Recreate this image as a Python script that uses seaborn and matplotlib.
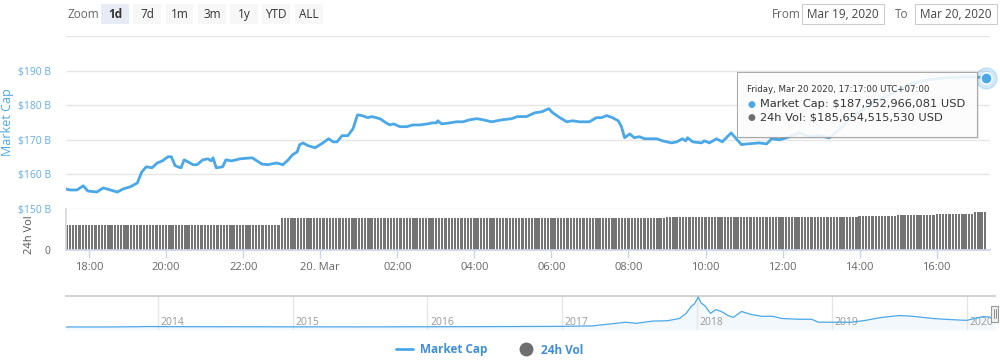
import numpy as np
import pandas as pd
import matplotlib
matplotlib.use("Agg")
import matplotlib.pyplot as plt
import matplotlib.dates as mdates
from matplotlib.patches import Rectangle
from matplotlib.lines import Line2D
import seaborn as sns

# --- data --------------------------------------------------------------
cap_times = [
    "03-19 17:24", "03-19 17:30", "03-19 17:41", "03-19 17:51", "03-19 17:58",
    "03-19 18:12", "03-19 18:22", "03-19 18:44", "03-19 18:53", "03-19 19:04",
    "03-19 19:15", "03-19 19:22", "03-19 19:29", "03-19 19:38", "03-19 19:46",
    "03-19 19:54", "03-19 20:03", "03-19 20:08", "03-19 20:14", "03-19 20:23",
    "03-19 20:28", "03-19 20:34", "03-19 20:42", "03-19 20:48", "03-19 20:57",
    "03-19 21:05", "03-19 21:10", "03-19 21:13", "03-19 21:18", "03-19 21:28",
    "03-19 21:33", "03-19 21:42", "03-19 21:55", "03-19 22:14", "03-19 22:29",
    "03-19 22:38", "03-19 22:52", "03-19 23:02", "03-19 23:10", "03-19 23:17",
    "03-19 23:24", "03-19 23:28", "03-19 23:33", "03-19 23:41", "03-19 23:52",
    "03-20 00:04", "03-20 00:13", "03-20 00:20", "03-20 00:26", "03-20 00:34",
    "03-20 00:43", "03-20 00:51", "03-20 00:58", "03-20 01:05", "03-20 01:14",
    "03-20 01:20", "03-20 01:33", "03-20 01:40", "03-20 01:48", "03-20 01:54",
    "03-20 02:04", "03-20 02:15", "03-20 02:24", "03-20 02:35", "03-20 02:47",
    "03-20 02:55", "03-20 03:01", "03-20 03:03", "03-20 03:09", "03-20 03:22",
    "03-20 03:32", "03-20 03:42", "03-20 03:53", "03-20 04:04", "03-20 04:13",
    "03-20 04:27", "03-20 04:35", "03-20 04:44", "03-20 04:58", "03-20 05:07",
    "03-20 05:21", "03-20 05:34", "03-20 05:45", "03-20 05:56", "03-20 06:02",
    "03-20 06:13", "03-20 06:24", "03-20 06:33", "03-20 06:44", "03-20 06:59",
    "03-20 07:10", "03-20 07:18", "03-20 07:26", "03-20 07:35", "03-20 07:44",
    "03-20 07:49", "03-20 07:54", "03-20 08:02", "03-20 08:09", "03-20 08:17",
    "03-20 08:25", "03-20 08:33", "03-20 08:44", "03-20 08:53", "03-20 09:07",
    "03-20 09:15", "03-20 09:24", "03-20 09:29", "03-20 09:32", "03-20 09:40",
    "03-20 09:54", "03-20 09:58", "03-20 10:06", "03-20 10:17", "03-20 10:26",
    "03-20 10:34", "03-20 10:40", "03-20 10:45", "03-20 10:56", "03-20 11:04",
    "03-20 11:24", "03-20 11:35", "03-20 11:43", "03-20 11:55", "03-20 12:06",
    "03-20 12:26", "03-20 12:41", "03-20 12:57", "03-20 13:13", "03-20 13:28",
    "03-20 13:44", "03-20 14:15", "03-20 14:46", "03-20 15:17", "03-20 15:48",
    "03-20 16:19", "03-20 16:50", "03-20 17:17",
]
cap_values = [
    155.8, 155.5, 155.5, 156.7, 155.2,
    154.9, 156.1, 154.9, 155.8, 156.4,
    157.5, 160.7, 162.2, 161.9, 163.3,
    163.9, 165.1, 165.1, 162.5, 161.9,
    164.2, 163.6, 162.8, 162.8, 164.2,
    164.5, 163.9, 164.8, 161.9, 162.2,
    164.2, 163.9, 164.5, 164.8, 163.0,
    162.8, 163.3, 162.8, 164.2, 165.7,
    166.5, 168.6, 169.1, 168.3, 167.7,
    169.1, 170.3, 169.4, 169.4, 171.2,
    171.2, 173.2, 177.2, 177.0, 176.4,
    176.7, 176.1, 175.2, 174.3, 174.6,
    173.8, 173.8, 174.3, 174.3, 174.6,
    174.9, 174.9, 175.5, 174.6, 174.9,
    175.2, 175.2, 175.8, 176.1, 175.8,
    175.2, 175.5, 175.8, 176.1, 176.7,
    176.7, 177.8, 178.1, 179.0, 177.8,
    176.4, 175.2, 175.5, 175.2, 175.2,
    176.4, 176.4, 177.0, 176.4, 175.5,
    173.8, 170.6, 171.7, 170.6, 170.9,
    170.3, 170.3, 170.3, 169.7, 169.1,
    169.4, 170.3, 169.7, 170.6, 169.4,
    169.1, 169.7, 169.1, 170.3, 169.4,
    170.9, 172.0, 170.9, 168.6, 168.8,
    169.1, 168.8, 170.3, 170.0, 170.6,
    172.0, 170.9, 171.2, 170.6, 172.9,
    175.8, 180.0, 183.0, 186.0, 187.4,
    188.0, 188.2, 187.95,
]

# 24h volume (billions USD), one level per hour starting 17:00 Mar 19
vol_hours = pd.date_range("2020-03-19 17:00", "2020-03-20 17:00", freq="h")
vol_levels = [
    122, 122, 122, 123, 123, 124, 155, 156,
    156, 156, 156, 156, 157, 157, 157, 158,
    160, 160, 161, 161, 162, 166, 170, 178,
    184, 184,
]

# navigator: full history of market cap (year, billions USD)
nav_year = [2013.32, 2013.6, 2013.85, 2013.93, 2014.1, 2014.5, 2015.0, 2015.5,
            2016.0, 2016.5, 2017.0, 2017.22, 2017.4, 2017.47, 2017.55, 2017.67,
            2017.78, 2017.87, 2017.92, 2017.96, 2017.98, 2018.01, 2018.03,
            2018.06, 2018.1, 2018.14, 2018.18, 2018.23, 2018.27, 2018.33,
            2018.4, 2018.48, 2018.56, 2018.63, 2018.75, 2018.85, 2018.9,
            2019.0, 2019.15, 2019.25, 2019.37, 2019.5, 2019.6, 2019.75,
            2019.88, 2020.0, 2020.12, 2020.17, 2020.2, 2020.21]
nav_value = [1.5, 1.3, 8, 14, 10, 8, 5, 4,
             7, 12, 18, 30, 100, 130, 100, 160,
             170, 230, 370, 570, 620, 810, 650,
             570, 370, 470, 420, 310, 260, 420,
             340, 290, 290, 230, 210, 210, 130,
             130, 130, 180, 260, 310, 290, 230,
             200, 180, 280, 270, 190, 188]
nav_ticks = [2014, 2015, 2016, 2017, 2018, 2019, 2020]

cap_df = pd.DataFrame({
    "time": pd.to_datetime(["2020-" + t for t in cap_times]),
    "cap": cap_values,
})
nav_df = pd.DataFrame({"year": nav_year, "cap": nav_value})

bar_times = pd.date_range("2020-03-19 17:25", "2020-03-20 17:15", freq="5min")
bar_vals = [vol_levels[int((t - vol_hours[0]) / pd.Timedelta(hours=1))] for t in bar_times]

BLUE = "#4aa8e8"
GREY_TXT = "#666666"
AXIS_LINE = "#ccd6eb"

sns.set_theme(style="white")
plt.rcParams["font.family"] = ["Open Sans", "DejaVu Sans"]

W, H = 1000, 362
fig = plt.figure(figsize=(W / 100, H / 100), dpi=100)


def fx(x):
    return x / W


def fy(y):
    return 1 - y / H


# --- main market cap panel ----------------------------------------------
ax_cap = fig.add_axes([fx(66), fy(209), fx(924), 173 / H])
ax_vol = fig.add_axes([fx(66), fy(250), fx(924), 41 / H], sharex=ax_cap)

sns.lineplot(data=cap_df, x="time", y="cap", color=BLUE, lw=2, ax=ax_cap, zorder=3)
ax_cap.set_ylim(150, 200)
ax_cap.set_yticks([150, 160, 170, 180, 190, 200])
ax_cap.set_yticklabels(["$150 B", "$160 B", "$170 B", "$180 B", "$190 B", ""])
for v in [150, 160, 170, 180, 190, 200]:
    ax_cap.axhline(v, color="#e6e6e6", lw=1, zorder=1)
ax_cap.tick_params(axis="y", length=0, pad=11, labelsize=7.5, labelcolor="#62ade6")
ax_cap.tick_params(axis="x", length=0, labelbottom=False)
for s in ax_cap.spines.values():
    s.set_visible(False)
ax_cap.set_xlabel("")
ax_cap.set_ylabel("Market Cap", color=BLUE, fontsize=9)
ax_cap.yaxis.set_label_coords(-0.056, 0.5)
ax_cap.set_xlim(pd.Timestamp("2020-03-19 17:24"), pd.Timestamp("2020-03-20 17:23"))

# hovered point
last_t, last_v = cap_df["time"].iloc[-1], cap_df["cap"].iloc[-1]
ax_cap.plot([last_t], [last_v], "o", ms=15, color=BLUE, alpha=0.25, zorder=4, clip_on=False)
ax_cap.plot([last_t], [last_v], "o", ms=8, color=BLUE, mec="white", mew=1, zorder=5, clip_on=False)

# --- volume panel --------------------------------------------------------
ax_vol.bar(bar_times, bar_vals, width=pd.Timedelta(minutes=3.6), color="#747474",
           linewidth=0, align="center")
ax_vol.set_ylim(0, 200)
ax_vol.set_yticks([0])
ax_vol.set_yticklabels(["0"])
ax_vol.tick_params(axis="y", length=0, pad=11, labelsize=7.5, labelcolor=GREY_TXT)
ax_vol.set_ylabel("24h Vol", color="#555555", fontsize=8)
ax_vol.yaxis.set_label_coords(-0.034, 0.38)
for side in ["top", "right"]:
    ax_vol.spines[side].set_visible(False)
ax_vol.spines["bottom"].set_color(AXIS_LINE)
ax_vol.spines["left"].set_color("#d8d8d8")

ax_vol.xaxis.set_major_locator(mdates.HourLocator(byhour=range(0, 24, 2)))
ax_vol.xaxis.set_major_formatter(
    plt.FuncFormatter(lambda x, _: "20. Mar" if mdates.num2date(x).hour == 0
                      else mdates.num2date(x).strftime("%H:%M")))
ax_vol.tick_params(axis="x", length=6, width=1, color=AXIS_LINE, pad=3,
                   labelsize=8, labelcolor=GREY_TXT, bottom=True)

# --- navigator -------------------------------------------------------------
ax_nav = fig.add_axes([fx(66), fy(330), fx(929), 34 / H])
ax_nav.fill_between(nav_df["year"], -80, nav_df["cap"], color="#eef6fd", alpha=0.7, lw=0)
sns.lineplot(data=nav_df, x="year", y="cap", color=BLUE, lw=0.9, ax=ax_nav, zorder=3)
ax_nav.set_xlim(2013.32, 2020.21)
ax_nav.set_ylim(-80, 837)
for yr in nav_ticks:
    ax_nav.axvline(yr, color="#e6e6e6", lw=1, zorder=1)
    ax_nav.text(yr + 0.02, -30, str(yr), fontsize=7.5, color="#999999",
                ha="left", va="bottom", zorder=2)
ax_nav.set_xticks([])
ax_nav.set_yticks([])
ax_nav.set_xlabel("")
ax_nav.set_ylabel("")
for side in ["left", "bottom", "right"]:
    ax_nav.spines[side].set_visible(False)
ax_nav.spines["top"].set_color("#cccccc")

# navigator handle on the right
fig.add_artist(Rectangle((fx(991), fy(322)), fx(7), 16 / H, facecolor="#f2f2f2",
                         edgecolor="#999999", lw=0.8, zorder=6))
for hx in [993.5, 995.5]:
    fig.add_artist(Line2D([fx(hx), fx(hx)], [fy(318), fy(309)], color="#888888", lw=0.7, zorder=7))

# --- range selector buttons --------------------------------------------
fig.text(fx(68), fy(15), "Zoom", fontsize=8.5, color=GREY_TXT, va="center", ha="left")
buttons = [("1d", 101, 129), ("7d", 133, 161), ("1m", 166, 193), ("3m", 198, 226),
           ("1y", 230, 258), ("YTD", 262, 290), ("ALL", 295, 323)]
for label, x0, x1 in buttons:
    active = label == "1d"
    fig.add_artist(Rectangle((fx(x0), fy(24)), fx(x1 - x0), 20 / H,
                             facecolor="#e6ebf5" if active else "#f7f7f7", lw=0))
    fig.text(fx((x0 + x1) / 2), fy(14.5), label, fontsize=8.5, color="#333333",
             ha="center", va="center", weight="bold" if active else "normal")

fig.text(fx(772), fy(15), "From", fontsize=8.5, color=GREY_TXT, va="center", ha="left")
fig.text(fx(895), fy(15), "To", fontsize=8.5, color=GREY_TXT, va="center", ha="left")
for txt, x0, x1 in [("Mar 19, 2020", 802, 884), ("Mar 20, 2020", 915, 997)]:
    fig.add_artist(Rectangle((fx(x0), fy(24)), fx(x1 - x0), 20 / H,
                             facecolor="white", edgecolor="#cccccc", lw=0.8))
    fig.text(fx((x0 + x1) / 2), fy(14.5), txt, fontsize=8.5, color="#444444",
             ha="center", va="center")

# --- tooltip ---------------------------------------------------------------
fig.add_artist(Rectangle((fx(739), fy(139)), fx(240), 65 / H, facecolor="#000000",
                         alpha=0.08, lw=0, zorder=8))
fig.add_artist(Rectangle((fx(737), fy(137)), fx(240), 65 / H, facecolor="white",
                         alpha=0.88, edgecolor="#a0a0a0", lw=0.8, zorder=9))
fig.text(fx(747), fy(90), "Friday, Mar 20 2020, 17:17:00 UTC+07:00", fontsize=6.2,
         color="#333333", va="center", ha="left", zorder=10, family="DejaVu Sans")
fig.text(fx(747), fy(104), "\u25CF", fontsize=6.5, color=BLUE, va="center", ha="left", zorder=10,
         family="DejaVu Sans")
fig.text(fx(760), fy(104), "Market Cap: $187,952,966,081 USD", fontsize=8.2,
         color="#333333", va="center", ha="left", zorder=10, family="DejaVu Sans")
fig.text(fx(747), fy(118), "\u25CF", fontsize=6.5, color="#6e6e6e", va="center", ha="left", zorder=10,
         family="DejaVu Sans")
fig.text(fx(760), fy(118), "24h Vol: $185,654,515,530 USD", fontsize=8.2,
         color="#333333", va="center", ha="left", zorder=10, family="DejaVu Sans")

# --- legend ------------------------------------------------------------------
handles = [Line2D([], [], color=BLUE, lw=2),
           Line2D([], [], marker="o", ls="", color="#6e6e6e", ms=9)]
fig.legend(handles, ["Market Cap", "24h Vol"], loc="center",
           bbox_to_anchor=(0.49, fy(350)), ncol=2, frameon=False,
           labelcolor="#3f8fd8", prop={"weight": "bold", "size": 8.5},
           handlelength=1.4, columnspacing=2.6, handletextpad=0.6)

fig.savefig("out.png", dpi=100, facecolor="white")
